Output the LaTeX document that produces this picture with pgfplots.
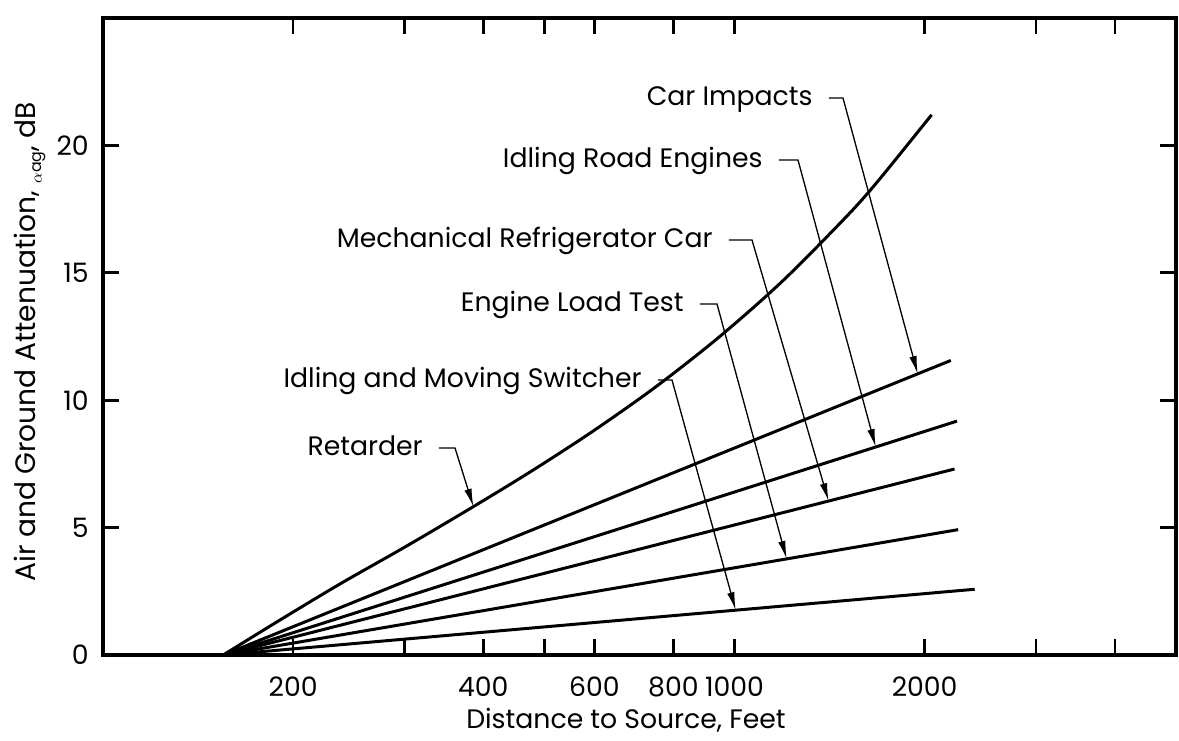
\documentclass[border=0pt]{standalone}
\usepackage{fontspec}
\setmainfont{Poppins}
\usepackage{pgfplots}
\pgfplotsset{compat=1.18}
\usetikzlibrary{arrows.meta}

\begin{document}
\fontsize{15.2}{18}\selectfont
\begin{tikzpicture}
\begin{axis}[
name=ax,
scale only axis,
width=214.6mm, height=127.4mm,
xmode=log,
xmin=100, xmax=5000,
ymin=0, ymax=25,
axis line style={line width=2pt},
xtick={200,300,400,500,600,800,1000,2000,3000,4000},
xticklabels={200,,400,,600,800,1000,2000,,},
ytick={0,5,10,15,20},
yticklabels={0,5,10,15,20},
minor tick length=0pt,
tick align=inside,
major tick length=3.2mm,
every tick/.style={black, line width=1.5pt},
xticklabel style={yshift=-2.6mm},
yticklabel style={xshift=-1mm},
clip=false,
]
% retarder (curved)
\addplot[black, line width=1.7pt, smooth] coordinates {(155,0) (190,1.35) (237.7,2.80) (299.3,4.21) (376.8,5.67) (474.3,7.18) (597.2,8.79) (751.8,10.54) (946.4,12.49) (1191.5,14.68) (1500,17.18) (1683,18.57) (2051,21.2)};
% car impacts
\addplot[black, line width=1.7pt] coordinates {(155,0) (2200,11.56)};
% idling road engines
\addplot[black, line width=1.7pt] coordinates {(155,0) (2250,9.18)};
% mechanical refrigerator car
\addplot[black, line width=1.7pt] coordinates {(155,0) (2230,7.30)};
% engine load test
\addplot[black, line width=1.7pt] coordinates {(155,0) (2260,4.92)};
% idling and moving switcher
\addplot[black, line width=1.7pt] coordinates {(155,0) (2400,2.58)};

\coordinate (tret) at (axis cs:386,5.82);
\coordinate (tcar) at (axis cs:1950,11.03);
\coordinate (troad) at (axis cs:1673,8.16);
\coordinate (tmech) at (axis cs:1409,6.04);
\coordinate (teng) at (axis cs:1209,3.77);
\coordinate (tsw) at (axis cs:1004,1.76);
\end{axis}

% labels, in pixels of the 1179x740 page
\begin{scope}[shift={([xshift=-20.6mm,yshift=3.6mm]ax.north west)}, x=0.2mm, y=-0.2mm]
\tikzset{lead/.style={line width=0.75pt, -{Latex[length=3.6mm,width=1.5mm]}}}
\node[anchor=mid east, inner sep=0pt] at (813,98) {Car Impacts};
\draw[lead] (829,98) -- (843,98) -- (tcar);
\node[anchor=mid east, inner sep=0pt] at (763,160) {Idling Road Engines};
\draw[lead] (779,160) -- (798,160) -- (troad);
\node[anchor=mid east, inner sep=0pt] at (713,240) {Mechanical Refrigerator Car};
\draw[lead] (729,240) -- (752,240) -- (tmech);
\node[anchor=mid east, inner sep=0pt] at (684,304) {Engine Load Test};
\draw[lead] (700,304) -- (717,304) -- (teng);
\node[anchor=mid east, inner sep=0pt] at (642,380) {Idling and Moving Switcher};
\draw[lead] (658,380) -- (672,380) -- (tsw);
\node[anchor=mid east, inner sep=0pt] at (423,448) {Retarder};
\draw[lead] (439,448) -- (455,448) -- (tret);
\node[rotate=90, font=\fontsize{16}{19}\selectfont] at (30,342) {Air and Ground Attenuation, \raisebox{-0.4ex}{\small$\alpha$ag}, dB};
\node at (626,720) {Distance to Source, Feet};
\end{scope}

\pgfresetboundingbox
\path[use as bounding box] ([xshift=-20.6mm,yshift=-17mm]ax.south west) rectangle ([xshift=0.6mm,yshift=3.6mm]ax.north east);
\end{tikzpicture}
\end{document}
